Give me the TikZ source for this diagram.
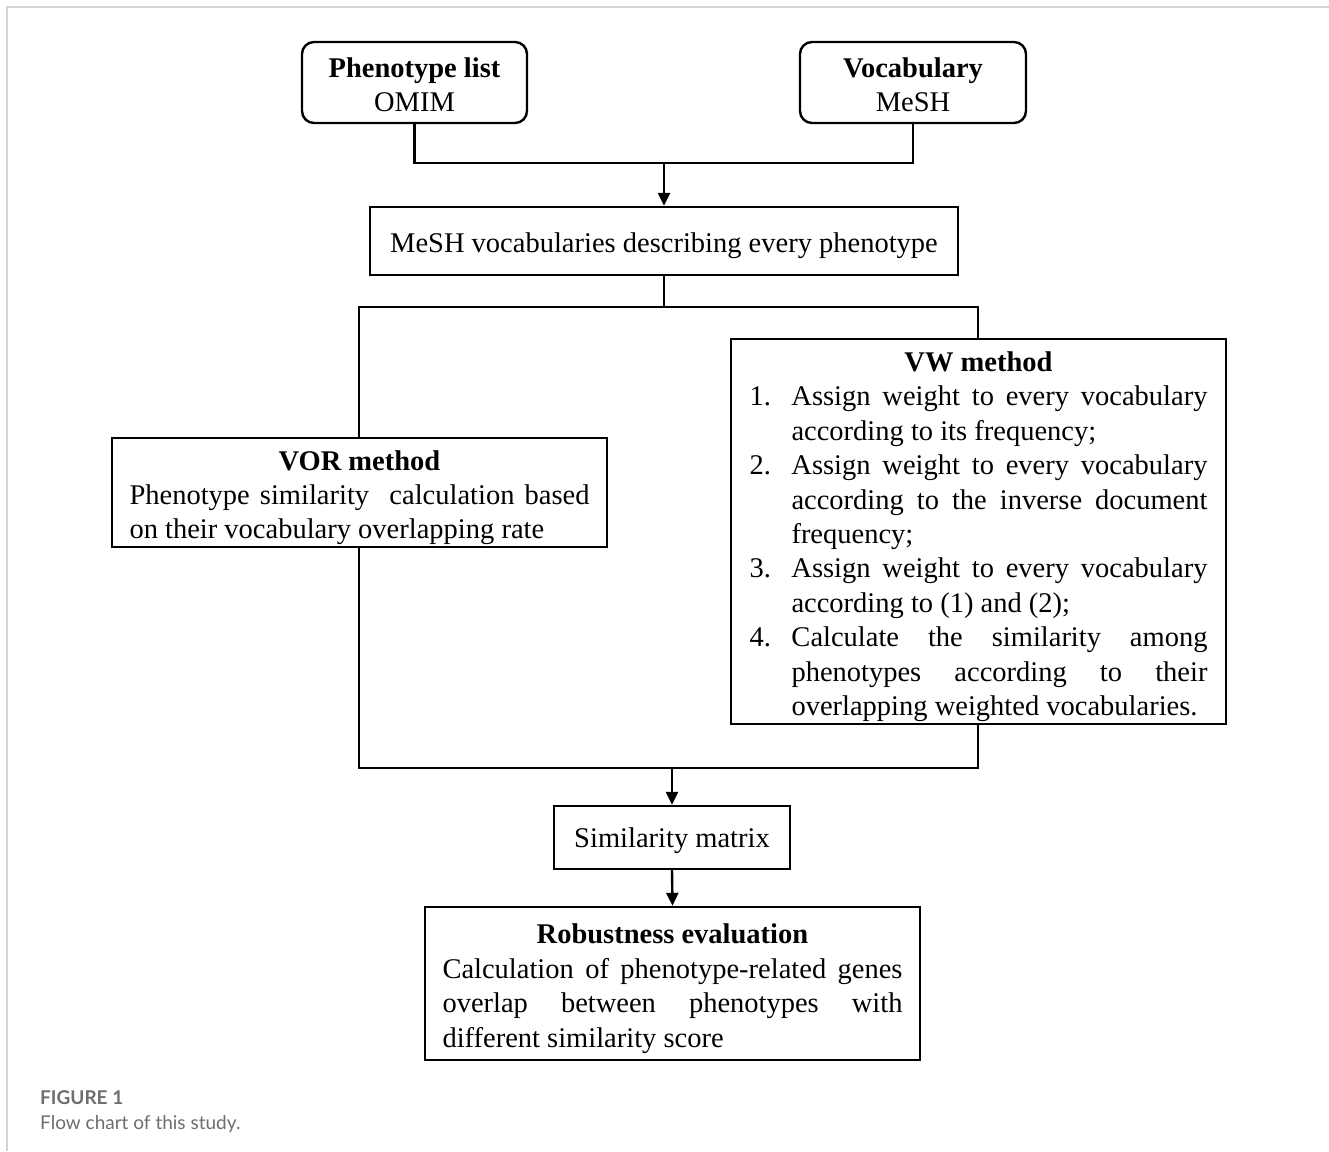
\documentclass[tikz,border=0pt]{standalone}
\usepackage{fontspec}
\setmainfont{Liberation Serif}
\newfontfamily\capfont{Lato}
\usetikzlibrary{arrows.meta}
\definecolor{framegray}{HTML}{D4D4D4}
\definecolor{capgray}{HTML}{6E6E6E}
\newcommand{\justifyit}{\parindent=0pt\leftskip=0pt\rightskip=0pt\parfillskip=0pt plus 1fil\hyphenpenalty=10000\exhyphenpenalty=10000\emergencystretch=30pt}
\newcommand{\boxtitle}[1]{{\centering\rule{0pt}{30pt}\textbf{#1}\par}}
\newcommand{\vwitem}[2]{\hangindent=42pt\hangafter=1\makebox[42pt][l]{#1}#2\par}
\begin{document}
\begin{tikzpicture}[x=1pt,y=-1pt,
  box/.style={draw=black, line width=2.4pt, inner sep=0pt, font=\fontsize{28.5}{34.4}\selectfont},
  rbox/.style={box, rounded corners=12pt},
  conn/.style={line width=2.4pt},
  arr/.style={conn, -{Triangle[length=13pt,width=12pt]}},
  caption/.style={anchor=base west, inner sep=0pt, text=capgray, font=\capfont\fontsize{19}{22}\selectfont}
]
\useasboundingbox (0,0) rectangle (1329,1151);
\fill[white] (0,0) rectangle (1329,1151);
\draw[framegray, line width=2pt] (7,1151) -- (7,7) -- (1329,7);

\node[rbox, minimum width=225pt, minimum height=81pt, align=center] (pheno) at (414.5,82.5)
  {\rule{0pt}{24pt}\textbf{Phenotype list}\\[-1pt]OMIM};
\node[rbox, minimum width=226pt, minimum height=81pt, align=center] (vocab) at (913,82.5)
  {\rule{0pt}{24pt}\textbf{Vocabulary}\\[-1pt]MeSH};
\node[box, minimum width=588pt, minimum height=68pt, text height=23pt, text depth=0pt] (mesh) at (664,241)
  {MeSH vocabularies describing every phenotype};

\coordinate (j1) at (664,163);
\draw[conn] (pheno.south) |- (j1) -| (vocab.south);
\draw[arr] (j1) -- (mesh.north);

\node[box, minimum width=495pt, minimum height=109pt] (vor) at (359.5,492.5)
  {\parbox{460pt}{\justifyit\boxtitle{VOR method}
   Phenotype similarity\ \ calculation based\linebreak on their vocabulary overlapping rate\par}};

\node[box, minimum width=495pt, minimum height=385pt] (vw) at (978.5,531.5)
  {\parbox{458pt}{\justifyit\boxtitle{VW method}
   \vwitem{1.}{Assign weight to every vocabulary\linebreak according to its frequency;}
   \vwitem{2.}{Assign weight to every vocabulary\linebreak according to the inverse document\linebreak frequency;}
   \vwitem{3.}{Assign weight to every vocabulary\linebreak according to (1) and (2);}
   \vwitem{4.}{Calculate the similarity among\linebreak phenotypes according to their\linebreak overlapping weighted vocabularies.}}};

\coordinate (j2) at (664,307);
\coordinate (j2l) at (359,307);
\coordinate (j2r) at (978,307);
\draw[conn] (mesh.south) -- (j2);
\draw[conn] (vor.north -| j2l) -- (j2l) -- (j2r) -- (vw.north -| j2r);

\node[box, minimum width=236pt, minimum height=63pt, text height=19.5pt, text depth=0pt] (sim) at (672,837.5) {Similarity matrix};

\coordinate (j3) at (672,768);
\draw[conn] (vor.south -| j2l) |- (j3) -| (vw.south -| j2r);
\draw[arr] (j3) -- (sim.north);

\node[box, minimum width=495pt, minimum height=153pt] (rob) at (672.5,983.5)
  {\parbox{460pt}{\justifyit\boxtitle{Robustness evaluation}
   Calculation of phenotype-related genes\linebreak overlap between phenotypes with\linebreak different similarity score\par}};
\draw[arr] (sim.south) -- (rob.north);

\node[caption] (fig) at (40,1104) {\bfseries FIGURE 1};
\node[caption] (cap) at (40,1129) {Flow chart of this study.};
\end{tikzpicture}
\end{document}
